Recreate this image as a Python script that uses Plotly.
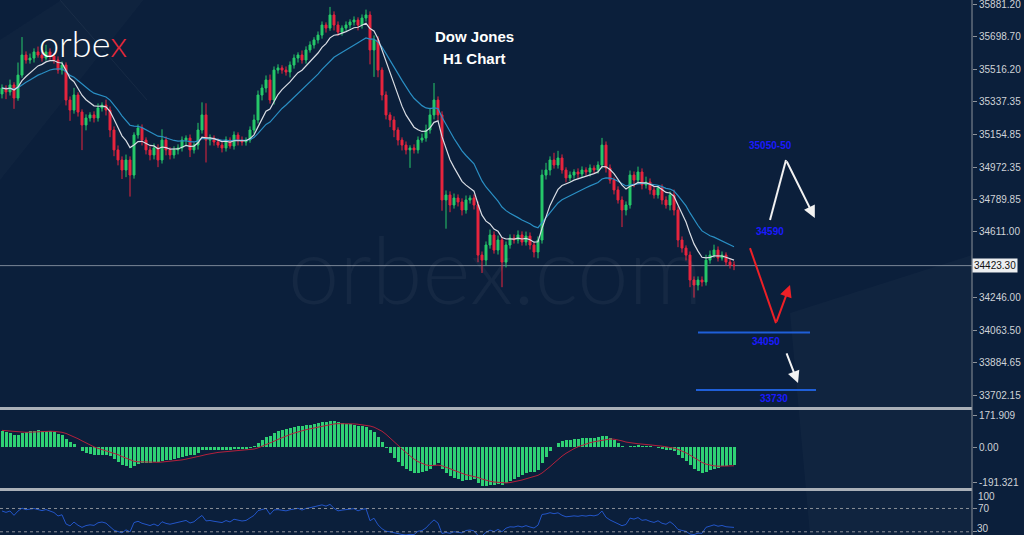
import plotly.graph_objects as go
import pandas as pd

# ---------------- data ----------------
first_open = 35380
closes = [
    35413, 35391, 35430, 35357, 35485, 35597, 35569, 35580, 35614, 35597,
    35580, 35614, 35591, 35569, 35513, 35541, 35346, 35290, 35374, 35279,
    35207, 35246, 35263, 35246, 35302, 35318, 35290, 35179, 35068, 35012,
    34956, 35012, 34928, 35151, 35190, 35123, 35068, 35040, 35079, 35012,
    35123, 35068, 35040, 35068, 35079, 35123, 35134, 35068, 35095, 35179,
    35263, 35123, 35134, 35112, 35095, 35079, 35123, 35090, 35151, 35123,
    35112, 35123, 35179, 35235, 35374, 35413, 35458, 35346, 35513, 35525,
    35513, 35502, 35541, 35580, 35597, 35569, 35625, 35653, 35681, 35708,
    35764, 35747, 35820, 35764, 35725, 35747, 35764, 35781, 35792, 35764,
    35803, 35820, 35625, 35681, 35513, 35374, 35263, 35235, 35179, 35123,
    35095, 35068, 35079, 35068, 35123, 35134, 35179, 35263, 35346, 35263,
    34789, 34817, 34761, 34800, 34778, 34733, 34789, 34800, 34761, 34482,
    34454, 34538, 34594, 34510, 34566, 34443, 34538, 34577, 34566, 34594,
    34555, 34588, 34538, 34499, 34566, 34928, 34956, 35012, 34984, 35023,
    34956, 34912, 34928, 34945, 34934, 34956, 34945, 34967, 34956, 34984,
    35095, 34967, 34900, 34845, 34789, 34733, 34761, 34928, 34900, 34945,
    34873, 34889, 34845, 34817, 34856, 34789, 34761, 34817, 34733, 34566,
    34521, 34482, 34343, 34315, 34343, 34332, 34454, 34482, 34510, 34466,
    34482, 34443, 34427, 34423,
]
upper_wicks = [
    20, 15, 30, 15, 70, 100, 20, 25, 20, 30,
    20, 40, 20, 15, 20, 20, 15, 20, 40, 15,
    15, 20, 15, 20, 25, 15, 30, 20, 20, 25,
    20, 30, 20, 15, 20, 20, 15, 20, 25, 20,
    60, 20, 15, 20, 20, 20, 15, 20, 15, 40,
    70, 65, 20, 15, 20, 15, 20, 15, 20, 15,
    20, 15, 20, 30, 25, 20, 25, 30, 20, 20,
    15, 20, 20, 20, 15, 25, 20, 20, 15, 20,
    20, 15, 45, 20, 20, 15, 20, 15, 20, 15,
    20, 30, 20, 25, 20, 15, 20, 15, 20, 15,
    15, 20, 15, 20, 20, 25, 30, 40, 95, 20,
    20, 25, 20, 25, 20, 20, 25, 15, 20, 20,
    20, 20, 30, 20, 25, 15, 20, 20, 20, 25,
    20, 25, 20, 15, 20, 30, 40, 20, 40, 40,
    20, 15, 20, 15, 20, 20, 15, 20, 15, 20,
    40, 20, 20, 15, 20, 20, 20, 25, 20, 30,
    20, 30, 20, 20, 15, 20, 20, 20, 30, 20,
    20, 15, 20, 20, 20, 20, 30, 25, 30, 20,
    20, 15, 20, 20,
]
lower_wicks = [
    25, 40, 20, 60, 15, 15, 20, 20, 25, 15,
    20, 15, 20, 20, 20, 25, 30, 60, 20, 25,
    140, 30, 20, 25, 20, 20, 30, 40, 35, 30,
    50, 40, 120, 20, 20, 30, 25, 30, 25, 40,
    20, 30, 25, 20, 25, 20, 30, 40, 20, 25,
    20, 125, 30, 20, 15, 25, 20, 15, 20, 30,
    20, 20, 15, 20, 20, 30, 25, 20, 25, 20,
    20, 20, 30, 20, 25, 20, 20, 15, 20, 20,
    20, 25, 15, 30, 20, 20, 15, 20, 20, 30,
    20, 20, 80, 150, 40, 30, 25, 40, 40, 30,
    30, 25, 100, 20, 20, 15, 20, 20, 25, 30,
    60, 160, 40, 20, 25, 30, 20, 20, 25, 40,
    72, 30, 20, 20, 25, 140, 30, 20, 20, 20,
    20, 20, 25, 30, 35, 20, 25, 30, 20, 20,
    20, 25, 20, 20, 25, 20, 20, 25, 20, 20,
    20, 25, 20, 25, 20, 95, 30, 20, 40, 20,
    25, 20, 25, 20, 20, 25, 20, 30, 30, 40,
    25, 30, 40, 70, 30, 25, 20, 20, 15, 20,
    15, 20, 20, 25,
]
macd_start = 95      # MACD reading at the first visible bar
signal_start = 90    # signal reading at the first visible bar
rsi_gain_start = 30  # average gain / loss giving the RSI (~64) at the first bar
rsi_loss_start = 17

price_ticks = [35881.20, 35698.70, 35516.20, 35337.35, 35154.85, 34972.35,
               34789.85, 34611.00, 34246.00, 34063.50, 33884.65, 33702.15]
current_price = 34423.30
macd_ticks = [171.909, 0.0, -191.321]
macd_tick_text = ["171.909", "0.00", "-191.321"]
rsi_levels = [70, 30]
rsi_labels = ["100", "70", "30"]

level_labels = ["35050-50", "34590", "34050", "33730"]
level_label_pos = [(192.2, 35095), (192, 34616), (191, 34003), (193, 33685)]
support_lines = [(174, 202, 34050), (173.5, 203.5, 33730)]
white_path = [(192, 34677), (196, 35012), (203.2, 34689)]
red_path = [(187, 34521), (193.5, 34103), (197, 34315)]
white_small = [(196, 33942), (199, 33769)]

# ---------------- derived ----------------
n = len(closes)
idx = list(range(n))
opens = [first_open] + closes[:-1]
highs = [max(o, c) + u for o, c, u in zip(opens, closes, upper_wicks)]
lows = [min(o, c) - l for o, c, l in zip(opens, closes, lower_wicks)]

s = pd.Series(closes, dtype=float)
ma_fast = s.ewm(span=9, adjust=False).mean()
ma_slow = s.ewm(span=20, adjust=False).mean()


def ema_seeded(vals, span, seed):
    a = 2 / (span + 1)
    out, e = [], seed
    for v in vals:
        e = e + a * (v - e)
        out.append(e)
    return pd.Series(out)


ema12 = ema_seeded(closes, 12, closes[0])
ema26 = ema_seeded(closes, 26, closes[0] - macd_start)
macd = ema12 - ema26
signal = ema_seeded(list(macd), 10, signal_start)

rsi = []
g, l = rsi_gain_start, rsi_loss_start
prev = first_open
for c in closes:
    ch = c - prev
    g = (g * 13 + max(ch, 0)) / 14
    l = (l * 13 + max(-ch, 0)) / 14
    rsi.append(100 - 100 / (1 + g / max(l, 1e-9)))
    prev = c

W, H = 1024, 535
XR = 972 / W


def py(px):
    return 1 - px / H


BG = "#0b1f3b"
GREEN = "#27c96a"
RED = "#e8253e"

fig = go.Figure()

fig.add_trace(go.Candlestick(
    x=idx, open=opens, high=highs, low=lows, close=closes,
    increasing=dict(line=dict(color=GREEN, width=1), fillcolor=GREEN),
    decreasing=dict(line=dict(color=RED, width=1), fillcolor=RED),
    whiskerwidth=0, xaxis="x", yaxis="y", showlegend=False, hoverinfo="skip"))
fig.add_trace(go.Scatter(x=idx, y=ma_slow, mode="lines",
                         line=dict(color="#2a8fc4", width=1.2), xaxis="x", yaxis="y", showlegend=False))
fig.add_trace(go.Scatter(x=idx, y=ma_fast, mode="lines",
                         line=dict(color="#d9dde4", width=1.2), xaxis="x", yaxis="y", showlegend=False))

# levels & arrows
for x0, x1, lv in support_lines:
    fig.add_trace(go.Scatter(x=[x0, x1], y=[lv, lv], mode="lines",
                             line=dict(color="#1f5fd8", width=2), xaxis="x", yaxis="y", showlegend=False))
for path, col in [(white_path, "#f2f2f2"), (red_path, "#ee2027")]:
    fig.add_trace(go.Scatter(x=[p[0] for p in path[:2]], y=[p[1] for p in path[:2]], mode="lines",
                             line=dict(color=col, width=2), xaxis="x", yaxis="y", showlegend=False))
    fig.add_annotation(x=path[2][0], y=path[2][1], ax=path[1][0], ay=path[1][1],
                       xref="x", yref="y", axref="x", ayref="y", text="", showarrow=True,
                       arrowhead=2, arrowsize=1.2, arrowwidth=2, arrowcolor=col)
fig.add_annotation(x=white_small[1][0], y=white_small[1][1], ax=white_small[0][0], ay=white_small[0][1],
                   xref="x", yref="y", axref="x", ayref="y", text="", showarrow=True,
                   arrowhead=2, arrowsize=1.2, arrowwidth=2, arrowcolor="#f2f2f2")
for lab, (lx, ly) in zip(level_labels, level_label_pos):
    fig.add_annotation(x=lx, y=ly, xref="x", yref="y", xanchor="center", yanchor="middle",
                       text="<b>%s</b>" % lab, showarrow=False,
                       font=dict(family="Liberation Sans", size=10, color="#1a1aff"))

# MACD
fig.add_trace(go.Bar(x=idx, y=macd, marker=dict(color="#2fd174", line=dict(width=0)),
                     xaxis="x", yaxis="y2", showlegend=False, width=0.75))
fig.add_trace(go.Scatter(x=idx, y=signal, mode="lines", line=dict(color="#b3203c", width=1),
                         xaxis="x", yaxis="y2", showlegend=False))
# RSI
fig.add_trace(go.Scatter(x=idx, y=rsi, mode="lines", line=dict(color="#2255c8", width=1),
                         xaxis="x", yaxis="y3", showlegend=False))

tickfont = dict(family="Liberation Sans", size=10, color="#cfd3d8")
axis_common = dict(side="right", anchor="x", ticks="outside", ticklen=4, tickcolor="#8d939b",
                   tickfont=tickfont, showgrid=False, zeroline=False, automargin=False,
                   ticklabeloverflow="allow")
fig.update_layout(
    width=W, height=H, margin=dict(l=0, r=0, t=0, b=0), hovermode=False,
    paper_bgcolor=BG, plot_bgcolor=BG, bargap=0,
    xaxis=dict(domain=[0, XR], range=[-0.5, 242.5], showticklabels=False, showgrid=False,
               zeroline=False, rangeslider=dict(visible=False), fixedrange=True),
    yaxis=dict(domain=[py(406), 1], range=[33640.9, 35903.5],
               tickvals=price_ticks, ticktext=["%.2f" % v for v in price_ticks], **axis_common),
    yaxis2=dict(domain=[py(488), py(410)], range=[-220, 199],
                tickvals=macd_ticks, ticktext=macd_tick_text, **axis_common),
    yaxis3=dict(domain=[0, py(491)], range=[24.5, 100],
                tickvals=rsi_levels, ticktext=["", ""], **axis_common),
)

shapes = []
# faint background decorations
shapes.append(dict(type="path", xref="paper", yref="paper", layer="below",
                   path="M %f %f L %f %f L %f %f L %f %f Z" % (790 / W, py(313), XR, py(255), XR, 0, 810 / W, 0),
                   fillcolor="rgba(255,255,255,0.025)", line=dict(width=0)))
shapes.append(dict(type="path", xref="paper", yref="paper", layer="below",
                   path="M %f %f L %f %f L %f %f L %f %f Z" % (0, py(40), 0.06, 1, 0.14, 1, 0, py(180)),
                   fillcolor="rgba(255,255,255,0.02)", line=dict(width=0)))
shapes.append(dict(type="line", xref="paper", yref="paper", layer="below",
                   x0=60 / W, y0=1, x1=147 / W, y1=py(100), line=dict(color="rgba(255,255,255,0.05)", width=1)))
# current price line
shapes.append(dict(type="line", xref="paper", yref="y", x0=0, x1=XR, y0=current_price, y1=current_price,
                   line=dict(color="rgba(170,178,190,0.7)", width=1), layer="below"))
# RSI levels
for lv in rsi_levels:
    shapes.append(dict(type="line", xref="paper", yref="y3", x0=0, x1=XR, y0=lv, y1=lv,
                       line=dict(color="#8a8f98", width=1, dash="dot")))
# separators and right axis line
for ypx in (408.5, 489.5):
    shapes.append(dict(type="line", xref="paper", yref="paper", x0=0, x1=XR, y0=py(ypx), y1=py(ypx),
                       line=dict(color="#aab0b8", width=3)))
shapes.append(dict(type="line", xref="paper", yref="paper", x0=XR, x1=XR, y0=0, y1=1,
                   line=dict(color="#8d939b", width=1)))
fig.update_layout(shapes=shapes)

# texts
fig.add_annotation(x=XR, y=current_price, xref="paper", yref="y", xanchor="left", yanchor="middle",
                   text="34423.30", showarrow=False, bgcolor="#eceef0", borderpad=1,
                   font=dict(family="Liberation Sans", size=10, color="#111111"))
# RSI scale labels (100 sits just under the separator, 30 kept inside the window)
fig.add_annotation(x=XR + 4 / W, y=100, xref="paper", yref="y3", xanchor="left", yanchor="middle", yshift=-5,
                   text=rsi_labels[0], showarrow=False, font=tickfont)
fig.add_annotation(x=XR + 4 / W, y=rsi_levels[0], xref="paper", yref="y3", xanchor="left", yanchor="middle",
                   text=rsi_labels[1], showarrow=False, font=tickfont)
fig.add_annotation(x=XR + 4 / W, y=0, xref="paper", yref="paper", xanchor="left", yanchor="bottom",
                   text=rsi_labels[2], showarrow=False, font=tickfont, borderpad=0)
fig.add_annotation(x=495 / W, y=py(268), xref="paper", yref="paper", xanchor="center", yanchor="middle",
                   text="orbex.com", showarrow=False,
                   font=dict(family="Lato", size=92, color="rgba(255,255,255,0.045)", weight=300))
fig.add_annotation(x=83 / W, y=py(43), xref="paper", yref="paper", xanchor="center", yanchor="middle",
                   showarrow=False, text='orbe<span style="color:#e5283a">x</span>',
                   font=dict(family="Lato", size=36, color="#ffffff", weight=300))
fig.add_annotation(x=474 / W, y=py(36), xref="paper", yref="paper", xanchor="center", yanchor="middle",
                   showarrow=False, text="<b>Dow Jones</b>",
                   font=dict(family="Liberation Sans", size=15, color="#ffffff"))
fig.add_annotation(x=474 / W, y=py(59), xref="paper", yref="paper", xanchor="center", yanchor="middle",
                   showarrow=False, text="<b>H1 Chart</b>",
                   font=dict(family="Liberation Sans", size=15, color="#ffffff"))

fig.write_html("out.html", config={"displayModeBar": False, "staticPlot": True},
               post_script="document.body.style.margin='0';document.body.style.overflow='hidden';")
